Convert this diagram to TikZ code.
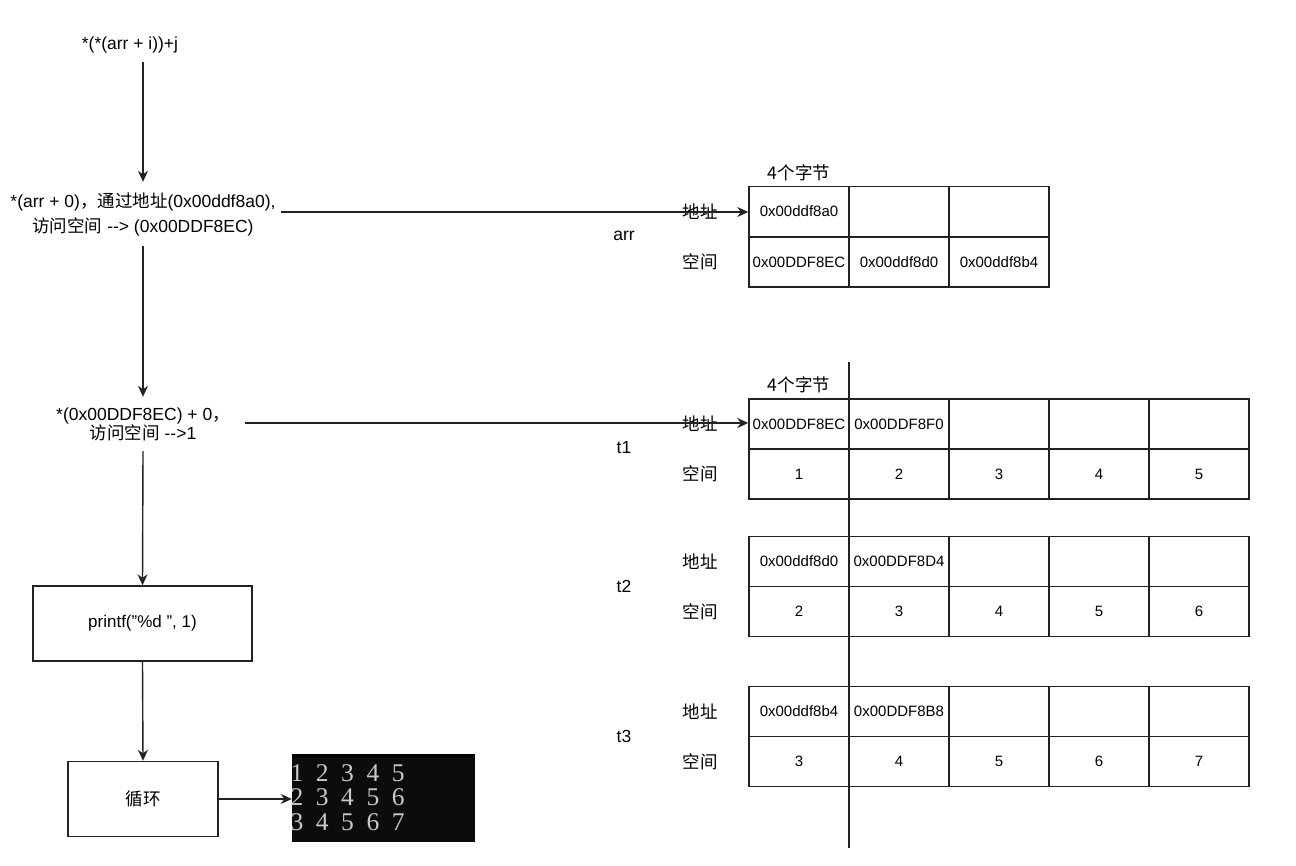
\documentclass[tikz,border=0pt]{standalone}
\usepackage{fontspec}
\setmainfont{Liberation Sans}
\newfontfamily\cjk{Noto Sans CJK SC}
\newfontfamily\conf{Liberation Serif}
\usetikzlibrary{arrows.meta}
\definecolor{consolebg}{HTML}{0C0C0C}
\definecolor{consolegray}{HTML}{C8C8C8}
\definecolor{linec}{HTML}{222222}
\begin{document}
\begin{tikzpicture}[x=1pt,y=-1pt,
  lbl/.style={font=\fontsize{17.5}{21}\selectfont, inner sep=0},
  cjklbl/.style={font=\cjk\fontsize{17.5}{21}\selectfont, inner sep=0},
  cell/.style={draw=linec, line width=1.5pt, minimum width=100pt, minimum height=50pt, inner sep=0, font=\fontsize{15}{18}\selectfont},
  box/.style={draw=linec, line width=1.5pt, inner sep=0, font=\fontsize{17}{20}\selectfont},
  conn/.style={draw=linec, line width=1.4pt, -{Stealth[length=11pt,width=10pt]}},
  con/.style={font=\conf\fontsize{25.5}{25}\selectfont, text=consolegray, inner sep=0, anchor=center}
]
\useasboundingbox[fill=white] (0,0) rectangle (1296,865);

% left flow
\node[lbl, minimum height=34pt] (top) at (130,45) {*(*(arr + i))+j};
\node[lbl, align=center, minimum width=276pt, minimum height=64pt,
      font=\fontsize{17.5}{25}\selectfont] (n1) at (143,214)
  {*(arr + 0){\cjk ，通过地址}(0x00ddf8a0),\\{\cjk 访问空间} -\kern0pt-> (0x00DDF8EC)};
\node[lbl, align=center, minimum width=204pt, minimum height=54pt,
      font=\fontsize{17.5}{19}\selectfont] (n2) at (143,424)
  {*(0x00DDF8EC) + 0{\cjk ，}\\{\cjk 访问空间} -\kern0pt->1};
\node[box, minimum width=219pt, minimum height=75pt] (printf) at (142.5,623.5) {printf("\%d ", 1)};
\node[box, minimum width=150pt, minimum height=75pt, font=\cjk\fontsize{17.5}{20}\selectfont] (loop) at (143,799) {循环};

% console
\node[fill=consolebg, minimum width=183pt, minimum height=88pt, inner sep=0] (console) at (383.5,798) {};
\fill[black] (console.north west) rectangle ([yshift=-4pt]console.north east);
\foreach \row [count=\j from 0] in {{1,2,3,4,5},{2,3,4,5,6},{3,4,5,6,7}} {
  \foreach \d [count=\k from 0] in \row {
    \node[con] (c\j\k) at (297+25.3*\k, 773+24.5*\j) {\d};
  }
}

% arr table
\node[cjklbl] (arrbytes) at (799,173) {4个字节};
\node[cjklbl] (arrdz) at (700,211.5) {地址};
\node[cjklbl] (arrkj) at (700,262) {空间};
\node[lbl] (arrname) at (624,236) {arr};
\foreach \t [count=\i from 0] in {0x00ddf8a0,{},{}}
  \node[cell] (arrA\i) at (799+100*\i,211.5) {\t};
\foreach \t [count=\i from 0] in {0x00DDF8EC,0x00ddf8d0,0x00ddf8b4}
  \node[cell] (arrB\i) at (799+100*\i,262) {\t};

% t1
\node[cjklbl] (tbytes) at (799,385) {4个字节};
\node[cjklbl] (tadz) at (700,424) {地址};
\node[cjklbl] (takj) at (700,474) {空间};
\node[lbl] (taname) at (624,448) {t1};
\foreach \t [count=\i from 0] in {0x00DDF8EC,0x00DDF8F0,{},{},{}}
  \node[cell] (tA\i) at (799+100*\i,424) {\t};
\foreach \t [count=\i from 0] in {1,2,3,4,5}
  \node[cell] (tB\i) at (799+100*\i,474) {\t};

% t2
\node[cjklbl] (tbdz) at (700,561.5) {地址};
\node[cjklbl] (tbkj) at (700,611.5) {空间};
\node[lbl] (tbname) at (624,586) {t2};
\foreach \t [count=\i from 0] in {0x00ddf8d0,0x00DDF8D4,{},{},{}}
  \node[cell] (uA\i) at (799+100*\i,561.5) {\t};
\foreach \t [count=\i from 0] in {2,3,4,5,6}
  \node[cell] (uB\i) at (799+100*\i,611.5) {\t};

% t3
\node[cjklbl] (tcdz) at (700,711.5) {地址};
\node[cjklbl] (tckj) at (700,761.5) {空间};
\node[lbl] (tcname) at (624,736) {t3};
\foreach \t [count=\i from 0] in {0x00ddf8b4,0x00DDF8B8,{},{},{}}
  \node[cell] (vA\i) at (799+100*\i,711.5) {\t};
\foreach \t [count=\i from 0] in {3,4,5,6,7}
  \node[cell] (vB\i) at (799+100*\i,761.5) {\t};

% vertical divider
\coordinate (vtop) at (849,362);
\coordinate (vbot) at (849,848);
\draw[draw=linec, line width=1.3pt] (vtop) -- (vbot);

% connectors
\draw[conn] (n1.north |- top.south) -- (n1.north);
\draw[conn] ([yshift=2pt]n1.east) -- ([yshift=2pt]n1.east -| arrA0.west);
\draw[conn] (n1.south) -- (n2.north);
\draw[conn] ([yshift=1pt]n2.east) -- ([yshift=1pt]n2.east -| tA0.west);
\draw[conn] (n2.south) -- (printf.north);
\draw[conn] (printf.south) -- (loop.north);
\draw[conn] (loop.east) -- (loop.east -| console.west);
\end{tikzpicture}
\end{document}
